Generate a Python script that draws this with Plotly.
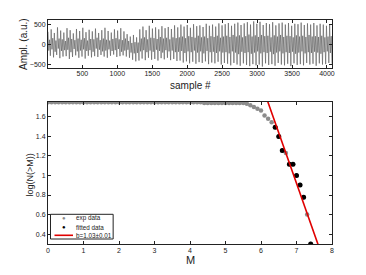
import numpy as np
import plotly.graph_objects as go
from plotly.subplots import make_subplots

# ---------------- top panel: waveform (extrema) ----------
peaks = [320, 380, 290, 430, 350, 300, 410, 360, 280, 390, 340, 420, 310, 370, 330, 400,
         290, 360, 420, 340, 300, 380, 350, 410, 330, 260,
         200, 240, 180,
         380, 450, 360, 470, 400, 430, 380, 460, 410, 440, 390, 480,
         430, 500, 450, 490, 420, 510, 460, 480, 440, 520, 470, 500, 450, 530, 480,
         510, 540, 470, 520, 550, 490, 530, 560, 500, 580, 520, 570, 490, 540, 510, 560,
         480, 530, 550, 500, 540, 470, 520, 510, 550, 490, 530, 500, 540, 480, 520, 500,
         470, 510]
inner_lo = [-150, -120, -180, -100, -160, -140, -130, -190, -110, -170, -150, -120, -160,
            -140, -180, -100, -130, -170, -150, -120, -160, -140, -110, -180, -150, -130,
            -200, -220, -210,
            -170, -140, -190, -150, -180, -130, -160, -200, -140, -170, -150, -190,
            -180, -160, -210, -170, -190, -150, -200, -170, -220, -160, -190, -180, -210,
            -170, -200,
            -190, -220, -170, -200, -240, -180, -210, -190, -230, -200, -170, -220, -190,
            -210, -180, -240, -200, -170, -220, -190, -210, -180, -230, -200, -170, -220,
            -190, -210, -180, -200, -230, -190, -170, -210]
inner_hi = [120, 160, 100, 150, 130, 90, 170, 140, 110, 150, 120, 160, 100, 140, 130, 170,
            110, 150, 120, 100, 140, 160, 130, 110, 150, 90,
            40, 60, 50,
            150, 180, 130, 170, 160, 140, 190, 150, 170, 130, 180, 160,
            180, 200, 160, 210, 190, 170, 220, 180, 200, 160, 210, 190, 220, 170, 200,
            220, 190, 240, 200, 230, 180, 210, 250, 200, 230, 190, 240, 210, 220, 180, 230,
            200, 240, 190, 220, 210, 180, 230, 200, 220, 190, 240, 200, 210, 190, 220, 180,
            200, 210]
troughs = [-280, -320, -260, -340, -300, -290, -360, -310, -270, -330, -300, -350, -280,
           -320, -290, -310, -260, -300, -330, -280, -250, -310, -290, -270, -300, -330,
           -380, -420, -400,
           -350, -390, -330, -380, -360, -400, -340, -370, -330, -390, -360, -410,
           -400, -450, -420, -470, -430, -480, -440, -460, -420, -490, -450, -470, -430,
           -500, -460,
           -480, -520, -460, -500, -530, -470, -510, -540, -490, -520, -500, -550, -470,
           -510, -490, -530, -460, -500, -520, -480, -540, -470, -510, -490, -520, -460,
           -500, -480, -530, -470, -500, -490, -460, -480]
n = min(len(peaks), len(inner_lo), len(inner_hi), len(troughs))
signal = []
for p, a, b, t in zip(peaks[:n], inner_lo[:n], inner_hi[:n], troughs[:n]):
    signal += [p, a, b, t]
sample_idx = np.linspace(8, 4072, len(signal))

# ---------------- bottom panel: Gutenberg-Richter --------------------------
M_exp = [round(0.1 * i, 1) for i in range(75)]
logN_exp = ([1.748] * 44 +
            [1.740] * 12 +
            [1.732, 1.716, 1.699, 1.681, 1.663, 1.613, 1.580, 1.544,
             1.491, 1.398, 1.255, 1.230, 1.114, 1.114, 1.000, 0.903, 0.778, 0.602, 0.301])
M_fit = [6.4, 6.5, 6.6, 6.8, 6.9, 7.0, 7.1, 7.2, 7.4]
logN_fit = [1.491, 1.398, 1.255, 1.114, 1.114, 1.000, 0.903, 0.778, 0.301]
b_value = 1.03
a_value = 8.13
M_line = [6.0, 7.8]
logN_line = [a_value - b_value * m for m in M_line]

legend_labels = ["exp data", "fitted data", "b=1.03±0.01"]

FONT = "Liberation Sans, Arial, sans-serif"
INK = "#222"
GRAY = "#8c8c8c"
RED = "#e00000"

fig = make_subplots(rows=2, cols=1, vertical_spacing=0.0)

fig.add_trace(go.Scatter(x=sample_idx, y=signal, mode="lines",
                         line=dict(color="#5c5c5c", width=0.65),
                         showlegend=False), row=1, col=1)

fig.add_trace(go.Scatter(x=M_exp, y=logN_exp, mode="markers", name=legend_labels[0],
                         marker=dict(color=GRAY, size=4.5), showlegend=False), row=2, col=1)
fig.add_trace(go.Scatter(x=M_fit, y=logN_fit, mode="markers", name=legend_labels[1],
                         marker=dict(color="black", size=5), showlegend=False), row=2, col=1)
fig.add_trace(go.Scatter(x=M_line, y=logN_line, mode="lines", name=legend_labels[2],
                         line=dict(color=RED, width=1.6), showlegend=False), row=2, col=1)

axis_common = dict(showline=True, linecolor=INK, linewidth=1, mirror="ticks",
                   ticks="inside", ticklen=3, tickcolor=INK, showgrid=False,
                   zeroline=False, tickfont=dict(size=7, color=INK), automargin=False)
fig.update_xaxes(**axis_common)
fig.update_yaxes(**axis_common)

fig.update_layout(
    xaxis=dict(domain=[0, 1], range=[8, 4072], ticklabelstandoff=-1,
               tickvals=[500, 1000, 1500, 2000, 2500, 3000, 3500, 4000]),
    yaxis=dict(domain=[0.786, 1.0], range=[-585, 615], tickvals=[-500, 0, 500]),
    xaxis2=dict(domain=[0, 1], range=[0, 8], dtick=1, ticklabelstandoff=0),
    yaxis2=dict(domain=[0, 0.634], range=[0.3, 1.75], dtick=0.2, tick0=0.4),
)

# The page body has an 8 px margin, so screen pixel = figure pixel + 8.
OFF = 8.0
W, H = 366 - OFF, 275 - OFF
PX0, PX1, PY0, PY1 = 47.5, 331.7, 20.0, 244.0   # plot area in screen pixels


def px(x):
    return (x - PX0) / (PX1 - PX0)


def py(y):
    return (PY1 - y) / (PY1 - PY0)


shapes = [
    dict(type="rect", xref="paper", yref="paper", x0=px(50), x1=px(112.7),
         y0=py(239), y1=py(214.3), line=dict(color=INK, width=1), fillcolor="white",
         layer="above"),
    dict(type="line", xref="paper", yref="paper", x0=px(54), x1=px(72.5),
         y0=py(235.3), y1=py(235.3), line=dict(color=RED, width=1.6), layer="above"),
]
annotations = [
    dict(xref="paper", yref="paper", x=px(63.3), y=py(218.3), text="●", showarrow=False,
         font=dict(size=6, color=GRAY), xanchor="center", yanchor="middle"),
    dict(xref="paper", yref="paper", x=px(63.3), y=py(227), text="●", showarrow=False,
         font=dict(size=6, color="black"), xanchor="center", yanchor="middle"),
]
for lbl, yy in zip(legend_labels, [218.3, 227, 235.3]):
    annotations.append(dict(xref="paper", yref="paper", x=px(73.5), y=py(yy), text=lbl,
                            showarrow=False, font=dict(size=6.3, color=INK),
                            xanchor="left", yanchor="middle"))

# axis titles
annotations += [
    dict(xref="paper", yref="paper", x=px(189.6), y=py(85.5), text="sample #",
         showarrow=False, font=dict(size=10, color=INK), xanchor="center", yanchor="middle"),
    dict(xref="paper", yref="paper", x=px(189.6), y=py(259.5), text="M",
         showarrow=False, font=dict(size=11, color=INK), xanchor="center", yanchor="middle"),
    dict(xref="paper", yref="paper", x=px(23.5), y=py(44), text="Ampl. (a.u.)", textangle=-90,
         showarrow=False, font=dict(size=10, color=INK), xanchor="center", yanchor="middle"),
    dict(xref="paper", yref="paper", x=px(29), y=py(175), text="log(N(>M))", textangle=-90,
         showarrow=False, font=dict(size=9, color=INK), xanchor="center", yanchor="middle"),
]

fig.update_layout(
    width=W, height=H,
    margin=dict(l=PX0 - OFF, r=366 - PX1, t=PY0 - OFF, b=275 - PY1, autoexpand=False),
    paper_bgcolor="white", plot_bgcolor="white",
    font=dict(family=FONT, color=INK),
    showlegend=False,
    shapes=shapes, annotations=annotations,
)

fig.write_html("out.html")
